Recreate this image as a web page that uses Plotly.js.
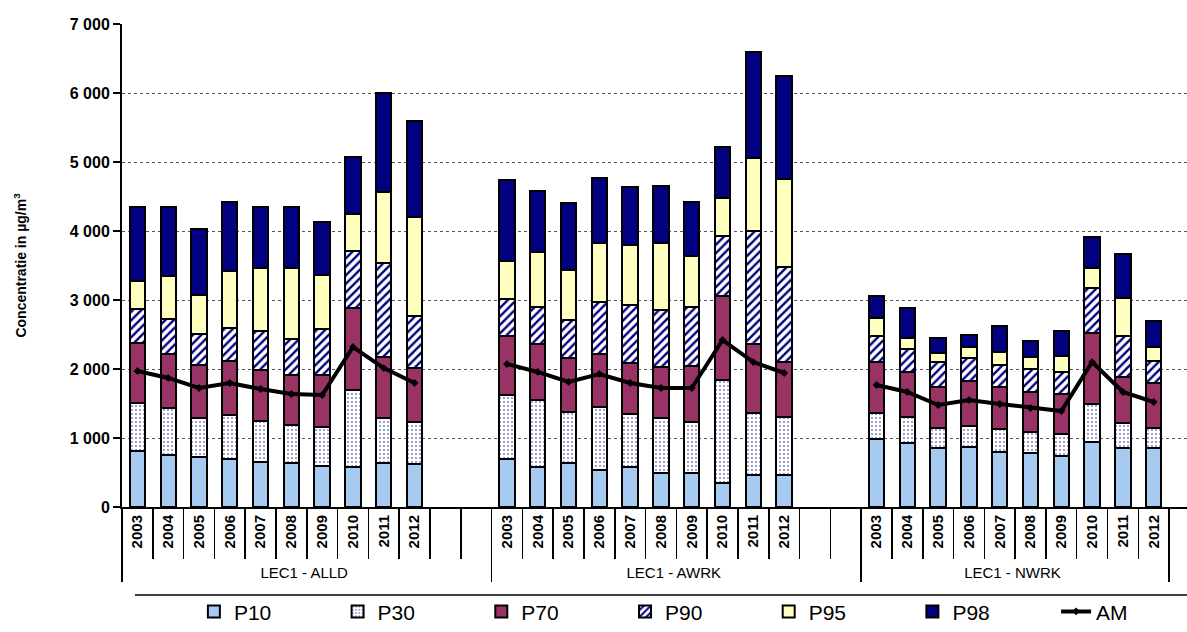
<!DOCTYPE html>
<html>
<head>
<meta charset="utf-8">
<script src="https://cdn.plot.ly/plotly-3.0.1.min.js"></script>
<style>html,body{margin:0;padding:0;background:#fff;}#chart{width:1187px;height:632px;}</style>
</head>
<body>
<div id="chart"></div>
<script>
// Categories
const years = ['2003','2004','2005','2006','2007','2008','2009','2010','2011','2012'];
const stations = ['LEC1 - ALLD','LEC1 - AWRK','LEC1 - NWRK'];
const blanksAfter = [2, 2, 0];

// Percentile values (µg/m³) per station, 2003..2012
const p10_alld = [812, 754, 725, 696, 652, 638, 594, 580, 638, 623];
const p30_alld = [1507, 1435, 1290, 1333, 1246, 1188, 1159, 1696, 1290, 1232];
const p70_alld = [2377, 2217, 2058, 2116, 1986, 1913, 1913, 2884, 2174, 2014];
const p90_alld = [2870, 2725, 2507, 2594, 2551, 2435, 2580, 3710, 3536, 2768];
const p95_alld = [3275, 3348, 3072, 3420, 3464, 3464, 3362, 4246, 4565, 4203];
const p98_alld = [4348, 4348, 4029, 4420, 4348, 4348, 4130, 5072, 6000, 5594];
const am_alld  = [1971, 1870, 1725, 1797, 1710, 1638, 1623, 2319, 2014, 1797];

const p10_awrk = [696, 580, 638, 536, 580, 493, 493, 348, 464, 464];
const p30_awrk = [1623, 1551, 1377, 1449, 1348, 1290, 1232, 1841, 1362, 1304];
const p70_awrk = [2478, 2362, 2159, 2217, 2087, 2029, 2043, 3058, 2362, 2101];
const p90_awrk = [3014, 2899, 2710, 2971, 2928, 2855, 2899, 3928, 4000, 3478];
const p95_awrk = [3565, 3696, 3435, 3826, 3797, 3826, 3638, 4478, 5058, 4754];
const p98_awrk = [4739, 4580, 4406, 4768, 4638, 4652, 4420, 5217, 6594, 6246];
const am_awrk  = [2072, 1957, 1812, 1928, 1797, 1725, 1725, 2420, 2101, 1942];

const p10_nwrk = [986, 928, 855, 870, 797, 783, 739, 942, 855, 855];
const p30_nwrk = [1362, 1304, 1145, 1174, 1130, 1087, 1058, 1493, 1217, 1145];
const p70_nwrk = [2101, 1957, 1739, 1826, 1739, 1667, 1638, 2522, 1884, 1797];
const p90_nwrk = [2478, 2290, 2101, 2159, 2058, 2000, 1957, 3174, 2478, 2116];
const p95_nwrk = [2739, 2449, 2232, 2319, 2246, 2174, 2188, 3464, 3029, 2319];
const p98_nwrk = [3058, 2884, 2449, 2493, 2623, 2406, 2551, 3913, 3667, 2696];
const am_nwrk  = [1768, 1667, 1478, 1551, 1493, 1435, 1391, 2101, 1667, 1522];

const seriesNames = ['P10','P30','P70','P90','P95','P98'];
const byStation = [
  [p10_alld, p30_alld, p70_alld, p90_alld, p95_alld, p98_alld, am_alld],
  [p10_awrk, p30_awrk, p70_awrk, p90_awrk, p95_awrk, p98_awrk, am_awrk],
  [p10_nwrk, p30_nwrk, p70_nwrk, p90_nwrk, p95_nwrk, p98_nwrk, am_nwrk]
];

// Build multicategory x and values
const xOuter = [], xInner = [];
const seg = seriesNames.map(() => []);
const amY = [];
stations.forEach((st, si) => {
  years.forEach((yr, yi) => {
    xOuter.push(st); xInner.push('<b>' + yr + '</b>');
    const d = byStation[si];
    for (let k = 0; k < 6; k++) {
      const prev = k === 0 ? 0 : d[k-1][yi];
      seg[k].push(d[k][yi] - prev);
    }
    amY.push(d[6][yi]);
  });
  for (let b = 0; b < blanksAfter[si]; b++) {
    xOuter.push(st); xInner.push('\u00a0'.repeat(b + 1));
    for (let k = 0; k < 6; k++) seg[k].push(null);
    amY.push(null);
  }
});

const styles = [
  {color: '#A6CAF0'},
  {color: '#FFFFFF', pattern: {shape: '.', fgcolor: '#000080', bgcolor: '#FFFFFF', size: 4, solidity: 0.1, fillmode: 'replace'}},
  {color: '#993366'},
  {color: '#FFFFFF', pattern: {shape: '/', fgcolor: '#000080', bgcolor: '#FFFFFF', size: 6, solidity: 0.4, fillmode: 'replace'}},
  {color: '#FFFFC0'},
  {color: '#000080'}
];

const traces = seriesNames.map((n, k) => ({
  type: 'bar', name: n, x: [xOuter, xInner], y: seg[k],
  marker: Object.assign({line: {color: '#000', width: 2}}, styles[k]),
  hoverinfo: 'skip'
}));
traces.push({
  type: 'scatter', mode: 'lines+markers', name: 'AM', x: [xOuter, xInner], y: amY,
  line: {color: '#000', width: 4}, marker: {symbol: 'diamond', size: 6, color: '#000'},
  connectgaps: false, hoverinfo: 'skip'
});

const layout = {
  width: 1187, height: 632,
  margin: {l: 122, r: 0, t: 24, b: 125, autoexpand: false},
  paper_bgcolor: '#fff', plot_bgcolor: '#fff',
  font: {family: 'Liberation Sans, Arial, sans-serif', color: '#000'},
  separators: ', ',
  barmode: 'stack', bargap: 0.5,
  showlegend: true,
  legend: {orientation: 'h', x: 0.0675, xanchor: 'left', y: -0.217, yanchor: 'middle',
           entrywidth: 98.7, entrywidthmode: 'pixels', itemwidth: 30,
           font: {size: 21}, traceorder: 'normal', bgcolor: 'rgba(0,0,0,0)'},
  xaxis: {
    type: 'multicategory', range: [-0.5, 34.08], automargin: false,
    tickson: 'boundaries', ticks: 'outside', ticklen: 50, tickcolor: '#000', tickwidth: 1.5,
    tickangle: -90, tickfont: {size: 15},
    showdividers: true, dividercolor: '#000', dividerwidth: 1.5,
    showline: true, linecolor: '#000', linewidth: 2, showgrid: false, zeroline: false
  },
  yaxis: {
    range: [0, 7000], dtick: 1000, tickformat: ',d', automargin: false,
    ticks: 'outside', ticklen: 7, tickcolor: '#000', tickwidth: 1.5,
    tickfont: {size: 16, weight: 'bold'},
    showline: true, linecolor: '#000', linewidth: 2,
    showgrid: true, gridcolor: '#555', gridwidth: 1, griddash: 'dot',
    zeroline: false,
    title: {text: 'Concentratie in µg/m<sup>3</sup>', font: {size: 14, weight: 'bold'}, standoff: 40}
  },
  shapes: [{type: 'line', xref: 'paper', yref: 'paper', x0: 0.0122, x1: 1, y0: -0.182, y1: -0.182,
            line: {color: '#000', width: 1.5}}]
};

Plotly.newPlot('chart', traces, layout, {displayModeBar: false, staticPlot: true});
</script>
</body>
</html>
